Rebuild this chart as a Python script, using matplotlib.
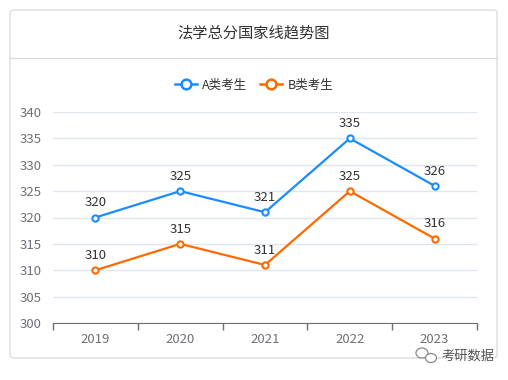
import numpy as np
import matplotlib
matplotlib.use("Agg")
import matplotlib.pyplot as plt
from matplotlib.patches import FancyBboxPatch, Ellipse
from matplotlib.lines import Line2D

plt.rcParams['font.family'] = ['Noto Sans CJK SC', 'DejaVu Sans']

years = ['2019', '2020', '2021', '2022', '2023']
scoresA = [320, 325, 321, 335, 326]
scoresB = [310, 315, 311, 325, 316]
title = '法学总分国家线趋势图'
names = ['A类考生', 'B类考生']
colors = ['#1a8cff', '#ff6a00']

W, H = 508, 380
fig = plt.figure(figsize=(W / 100, H / 100), dpi=100)

# card frame
card = FancyBboxPatch((10 / W, (H - 358) / H), 487 / W, 348 / H,
                      boxstyle='round,pad=0,rounding_size=0.008',
                      transform=fig.transFigure, facecolor='white',
                      edgecolor='#dcdcdc', linewidth=1.0, zorder=-5)
fig.patches.append(card)
fig.add_artist(Line2D([10 / W, 497 / W], [1 - 58 / H, 1 - 58 / H],
                      transform=fig.transFigure, color='#dcdcdc', lw=1.0,
                      zorder=-4))
fig.text(0.5, 1 - 33 / H, title, ha='center', va='center',
         fontsize=11, color='#333333')

ax = fig.add_axes([53 / W, (H - 323) / H, 424 / W, 211 / H])
ax.set_facecolor('none')
x = np.arange(len(years))
for vals, c, n in zip([scoresA, scoresB], colors, names):
    ax.plot(x, vals, color=c, lw=1.6, marker='o', ms=4.5,
            mfc='white', mec=c, mew=1.5, zorder=3)
    for xi, v in zip(x, vals):
        ax.annotate(str(v), (xi, v), xytext=(0, 6), textcoords='offset points',
                    ha='center', va='bottom', fontsize=9.5, color='#333333')

ax.set_xlim(-0.5, len(years) - 0.5)
ax.set_ylim(300, 340)
ax.set_yticks(np.arange(300, 341, 5))
ax.grid(axis='y', color='#e0e6f1', lw=1.0)
ax.set_axisbelow(True)
ax.set_xticks(np.arange(-0.5, len(years), 1.0))
ax.set_xticklabels([])
ax.set_xticks(x, minor=True)
ax.set_xticklabels(years, minor=True)
ax.tick_params(axis='x', which='major', length=5, color='#6e7079', width=1)
ax.tick_params(axis='x', which='minor', length=0, pad=7, labelsize=9.5,
               labelcolor='#6e7079')
ax.tick_params(axis='y', length=0, pad=8, labelsize=9.5, labelcolor='#6e7079')
for s in ['left', 'right', 'top']:
    ax.spines[s].set_visible(False)
ax.spines['bottom'].set_color('#6e7079')

handles = [Line2D([], [], color=c, lw=1.8, marker='o', ms=7, mfc='white',
                  mec=c, mew=1.8) for c in colors]
fig.legend(handles, names, loc='center', bbox_to_anchor=(0.5, 1 - 85 / H),
           ncol=2, frameon=False, fontsize=9, handlelength=1.8,
           columnspacing=1.0, handletextpad=0.4, labelcolor='#333333')

# watermark with a small chat-bubble icon
for cx, cy, w, h in [(422, 353, 12, 10), (431, 358, 11, 9)]:
    fig.patches.append(Ellipse((cx / W, 1 - cy / H), w / W, h / H,
                               transform=fig.transFigure, facecolor='white',
                               edgecolor='#8a8a8a', lw=0.9, zorder=5))
fig.text(494 / W, 1 - 356 / H, '考研数据', ha='right', va='center',
         fontsize=9.5, color='#555555')

fig.savefig('out.png', dpi=100)
